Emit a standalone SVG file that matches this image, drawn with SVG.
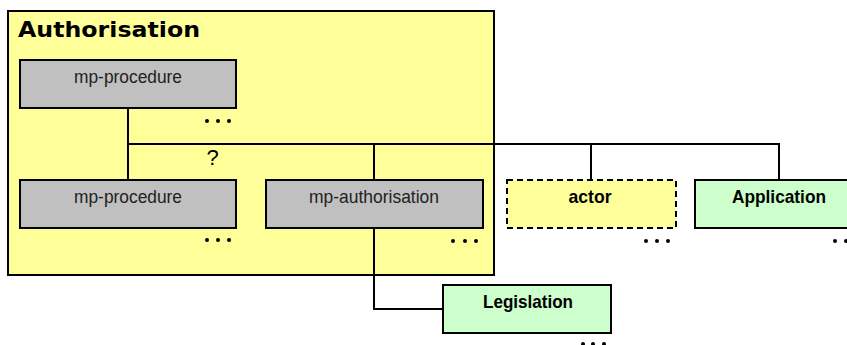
<svg xmlns="http://www.w3.org/2000/svg" width="847" height="345" viewBox="0 0 847 345">
<style>
.box{stroke:#000;stroke-width:2}
.gray{fill:#C0C0C0}
.green{fill:#CCFFCC}
.yellow{fill:#FFFF99}
.dash{stroke-dasharray:6,4}
.lbl{font-family:"Liberation Sans",Arial,sans-serif;font-size:19px;text-anchor:middle;fill:#222}
.bold{font-weight:bold;fill:#000}
.conn{fill:none;stroke:#000;stroke-width:2}
.dot{fill:#000}
</style>
<rect width="847" height="345" fill="#fff"/>
<g id="authorisation">
<rect class="box yellow" x="8" y="11" width="486" height="264"/>
<text x="18" y="37" font-family="DejaVu Sans,Verdana,sans-serif" font-weight="bold" font-size="21" textLength="182" lengthAdjust="spacingAndGlyphs">Authorisation</text>
</g>
<g id="connectors">
<path class="conn" d="M128,108 V180 M128,144 H779 V180 M374,144 V180 M591,144 V180 M374,228 V309 H443"/>
</g>
<g id="mp-procedure-1">
<rect class="box gray" x="20" y="60" width="216" height="48"/>
<text class="lbl" x="128" y="83" textLength="108" lengthAdjust="spacingAndGlyphs">mp-procedure</text>
<circle class="dot" cx="207" cy="121" r="2"/><circle class="dot" cx="218" cy="121" r="2"/><circle class="dot" cx="229" cy="121" r="2"/>
</g>
<g id="question">
<text x="212.5" y="165" font-family="Liberation Sans,Arial,sans-serif" font-size="22" text-anchor="middle" fill="#000">?</text>
</g>
<g id="mp-procedure-2">
<rect class="box gray" x="20" y="180" width="216" height="48"/>
<text class="lbl" x="128" y="203" textLength="108" lengthAdjust="spacingAndGlyphs">mp-procedure</text>
<circle class="dot" cx="207" cy="240" r="2"/><circle class="dot" cx="218" cy="240" r="2"/><circle class="dot" cx="229" cy="240" r="2"/>
</g>
<g id="mp-authorisation">
<rect class="box gray" x="266" y="180" width="217" height="48"/>
<text class="lbl" x="374" y="203" textLength="130" lengthAdjust="spacingAndGlyphs">mp-authorisation</text>
<circle class="dot" cx="453" cy="241" r="2"/><circle class="dot" cx="465" cy="241" r="2"/><circle class="dot" cx="476" cy="241" r="2"/>
</g>
<g id="actor">
<rect class="box yellow dash" x="507" y="180" width="169" height="48"/>
<text class="lbl bold" x="590" y="203" textLength="43" lengthAdjust="spacingAndGlyphs">actor</text>
<circle class="dot" cx="646" cy="241" r="2"/><circle class="dot" cx="657" cy="241" r="2"/><circle class="dot" cx="668" cy="241" r="2"/>
</g>
<g id="application">
<rect class="box green" x="695" y="180" width="168" height="48"/>
<text class="lbl bold" x="779" y="203" textLength="94" lengthAdjust="spacingAndGlyphs">Application</text>
<circle class="dot" cx="835" cy="241" r="2"/><circle class="dot" cx="846" cy="241" r="2"/>
</g>
<g id="legislation">
<rect class="box green" x="443" y="285" width="168" height="48"/>
<text class="lbl bold" x="528" y="308" textLength="90" lengthAdjust="spacingAndGlyphs">Legislation</text>
<circle class="dot" cx="583" cy="344" r="2"/><circle class="dot" cx="593" cy="344" r="2"/><circle class="dot" cx="604" cy="344" r="2"/>
</g>
</svg>
